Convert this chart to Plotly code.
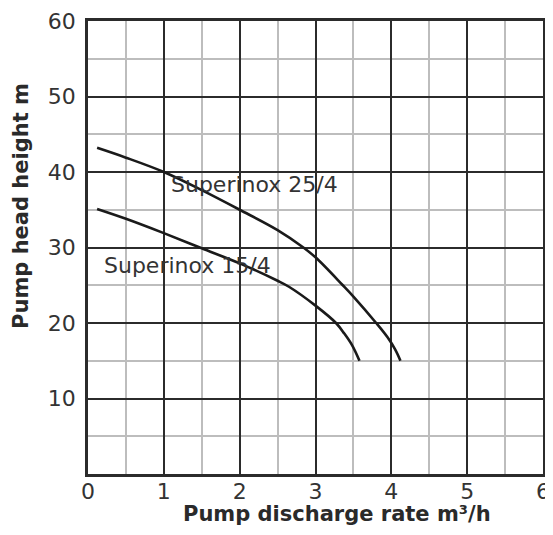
import plotly.graph_objects as go

# Superinox 25/4 curve
x_254 = [0.12, 0.5, 1.0, 1.5, 2.0, 2.5, 2.84, 3.0, 3.36, 3.5, 3.8, 3.95, 4.05, 4.12]
y_254 = [43.2, 41.9, 40.0, 37.6, 35.0, 32.3, 30.0, 28.7, 25.0, 23.5, 20.0, 18.1, 16.5, 15.0]

# Superinox 15/4 curve
x_154 = [0.12, 0.5, 1.0, 1.5, 2.0, 2.5, 2.65, 3.0, 3.27, 3.38, 3.48, 3.58]
y_154 = [35.1, 33.8, 31.9, 29.9, 27.9, 25.6, 24.8, 22.3, 20.0, 18.6, 17.1, 15.0]

x_ticks = [0, 1, 2, 3, 4, 5, 6]
y_ticks = [10, 20, 30, 40, 50, 60]

labels = ["Superinox 25/4", "Superinox 15/4"]
label_pos = [(1.07, 38.3), (0.18, 27.6)]

MAJOR = "#2b2b2b"
MINOR = "#bdbdbd"
FONT = "DejaVu Sans, Arial, sans-serif"

fig = go.Figure()
for xs, ys in [(x_254, y_254), (x_154, y_154)]:
    fig.add_trace(go.Scatter(x=xs, y=ys, mode="lines",
                             line=dict(color="#1a1a1a", width=2.6, shape="spline", smoothing=1.0),
                             showlegend=False, hoverinfo="skip"))

for lab, (lx, ly) in zip(labels, label_pos):
    fig.add_annotation(x=lx, y=ly, text=lab, showarrow=False, xanchor="left", yanchor="middle",
                       font=dict(family=FONT, size=22, color="#333333"))

fig.add_annotation(xref="paper", yref="paper", x=0.547, y=-0.089, text="<b>Pump discharge rate m³/h</b>",
                   showarrow=False, xanchor="center", yanchor="middle",
                   font=dict(family=FONT, size=21, color="#2a2a2a"))
fig.add_annotation(xref="paper", yref="paper", x=-0.147, y=0.592, text="<b>Pump head height m</b>",
                   showarrow=False, textangle=-90, xanchor="center", yanchor="middle",
                   font=dict(family=FONT, size=21, color="#2a2a2a"))

fig.update_xaxes(range=[0, 6], tickvals=x_ticks, ticktext=[str(v) for v in x_ticks],
                 showgrid=True, gridcolor=MAJOR, gridwidth=2.2, zeroline=False,
                 showline=True, linecolor=MAJOR, linewidth=2.6, mirror=True,
                 ticks="", ticklen=0, automargin=False, ticklabelstandoff=-4,
                 tickfont=dict(family=FONT, size=22, color="#333333"),
                 minor=dict(dtick=0.5, showgrid=True, gridcolor=MINOR, gridwidth=2.2, ticks=""))
fig.update_yaxes(range=[0, 60], tickvals=y_ticks, ticktext=[str(v) for v in y_ticks],
                 showgrid=True, gridcolor=MAJOR, gridwidth=2.2, zeroline=False,
                 showline=True, linecolor=MAJOR, linewidth=2.6, mirror=True,
                 ticks="", ticklen=0, automargin=False, ticklabelstandoff=5,
                 tickfont=dict(family=FONT, size=22, color="#333333"),
                 minor=dict(dtick=5, showgrid=True, gridcolor=MINOR, gridwidth=2.2, ticks=""))

fig.update_layout(width=545, height=527, margin=dict(l=80, r=10, t=13, b=61),
                  plot_bgcolor="white", paper_bgcolor="white")

fig.write_html("out.html")
